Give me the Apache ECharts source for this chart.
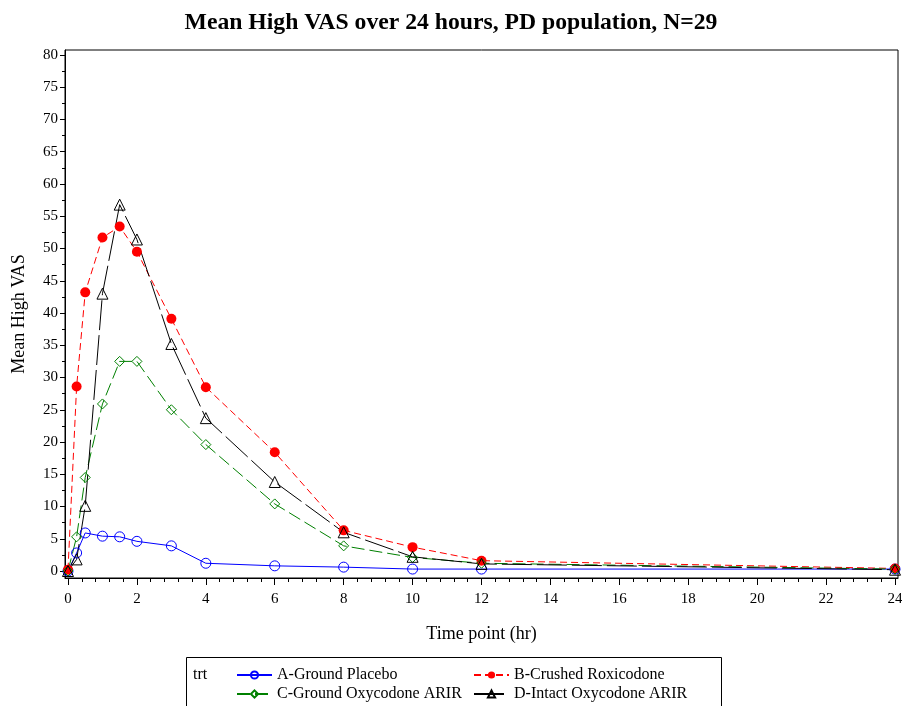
<!DOCTYPE html>
<html>
<head>
<meta charset="utf-8">
<script src="https://cdn.jsdelivr.net/npm/echarts@6/dist/echarts.min.js"></script>
<style>
  html, body { margin: 0; padding: 0; background: #fff; }
  #chart { width: 902px; height: 706px; }
</style>
</head>
<body>
<div id="chart"></div>
<script>
// time points (hr)
var hours = [0, 0.25, 0.5, 1, 1.5, 2, 3, 4, 6, 8, 10, 12, 24];
// mean high VAS per treatment
var placebo  = [0, 2.8, 5.9, 5.4, 5.3, 4.6, 3.9, 1.2, 0.8, 0.6, 0.3, 0.3, 0.3];
var crushed  = [0.2, 28.6, 43.2, 51.7, 53.4, 49.5, 39.1, 28.5, 18.4, 6.3, 3.7, 1.6, 0.4];
var groundOx = [0, 5.3, 14.5, 25.9, 32.5, 32.5, 25.0, 19.6, 10.4, 3.9, 2.1, 1.2, 0.3];
var intactOx = [0, 1.8, 10.1, 43.0, 56.8, 51.4, 35.2, 23.7, 13.8, 6.0, 2.2, 1.1, 0.2];
var names = ['A-Ground Placebo', 'B-Crushed Roxicodone', 'C-Ground Oxycodone ARIR', 'D-Intact Oxycodone ARIR'];
// tick labels
var xTicks = [0, 2, 4, 6, 8, 10, 12, 14, 16, 18, 20, 22, 24];
var yTicks = [0, 5, 10, 15, 20, 25, 30, 35, 40, 45, 50, 55, 60, 65, 70, 75, 80];

var FONT = '"Liberation Serif", "Times New Roman", serif';

// minor tick positions: 5 steps per x major, 2 per y major
var xMinor = [];
for (var i = 0; i < xTicks.length - 1; i++) {
    for (var k = 1; k < 5; k++) xMinor.push(xTicks[i] + k * 0.4);
}
var yMinor = [];
for (var j = 0; j < yTicks.length - 1; j++) {
    yMinor.push(yTicks[j] + 2.5);
}

function pairs(vals) {
    var out = [];
    for (var i = 0; i < hours.length; i++) {
        out.push([hours[i], vals[i]]);
    }
    return out;
}

function makeSeries(name, vals, color, symbol, size, filled, dash) {
    return {
        name: name,
        type: 'line',
        data: pairs(vals),
        symbol: symbol,
        symbolSize: size,
        lineStyle: { color: color, width: 1, type: dash },
        itemStyle: {
            color: filled ? color : 'rgba(255,255,255,0)',
            borderColor: color,
            borderWidth: filled ? 0 : 1
        },
        z: 3
    };
}

function legendItem(name, left, top) {
    return {
        data: [name],
        orient: 'horizontal',
        left: left,
        top: top,
        padding: 0,
        itemWidth: 35,
        itemHeight: 9,
        selectedMode: false,
        textStyle: { fontFamily: FONT, fontSize: 16, color: '#000', lineHeight: 16 }
    };
}

// x range / y range padded so the frame sits just outside 0..24 and 0..80
var X_MIN = -0.087, X_MAX = 24.087;
var Y_MIN = -1.085, Y_MAX = 80.775;

var tickStyle = { color: '#000', width: 1 };

var chart = echarts.init(document.getElementById('chart'), null, { renderer: 'canvas' });

var option = {
    animation: false,
    backgroundColor: '#fff',
    title: {
        text: 'Mean High VAS over 24 hours, PD population, N=29',
        left: 'center',
        top: 6,
        textStyle: { fontFamily: FONT, fontSize: 23.7, fontWeight: 'bold', color: '#000' }
    },
    grid: {
        left: 65,
        right: 4,
        top: 50,
        bottom: 128,
        show: true,
        borderColor: '#000',
        borderWidth: 1,
        backgroundColor: 'rgba(0,0,0,0)',
        outerBoundsMode: 'none'
    },
    xAxis: [
        {
            type: 'value',
            min: X_MIN,
            max: X_MAX,
            name: 'Time point (hr)',
            nameLocation: 'middle',
            nameGap: 47,
            nameTextStyle: { fontFamily: FONT, fontSize: 18, color: '#000' },
            axisLine: { show: true, onZero: false, lineStyle: tickStyle },
            axisTick: { show: true, inside: false, length: 7, customValues: xTicks, lineStyle: tickStyle },
            axisLabel: { fontFamily: FONT, fontSize: 15, color: '#000', margin: 14, customValues: xTicks },
            splitLine: { show: false }
        },
        {
            type: 'value',
            position: 'bottom',
            min: X_MIN,
            max: X_MAX,
            axisLine: { show: false, onZero: false },
            axisTick: { show: true, inside: false, length: 4, customValues: xMinor, lineStyle: tickStyle },
            axisLabel: { show: false },
            splitLine: { show: false }
        }
    ],
    yAxis: [
        {
            type: 'value',
            min: Y_MIN,
            max: Y_MAX,
            name: 'Mean High VAS',
            nameLocation: 'middle',
            nameGap: 37,
            nameTextStyle: { fontFamily: FONT, fontSize: 18, color: '#000' },
            axisLine: { show: true, onZero: false, lineStyle: tickStyle },
            axisTick: { show: true, inside: false, length: 5, customValues: yTicks, lineStyle: tickStyle },
            axisLabel: { fontFamily: FONT, fontSize: 15, color: '#000', margin: 7, customValues: yTicks },
            splitLine: { show: false }
        },
        {
            type: 'value',
            position: 'left',
            min: Y_MIN,
            max: Y_MAX,
            axisLine: { show: false, onZero: false },
            axisTick: { show: true, inside: false, length: 3, customValues: yMinor, lineStyle: tickStyle },
            axisLabel: { show: false },
            splitLine: { show: false }
        }
    ],
    legend: [
        legendItem(names[0], 236, 667),
        legendItem(names[1], 473, 667),
        legendItem(names[2], 236, 686),
        legendItem(names[3], 473, 686)
    ],
    graphic: [
        {
            type: 'rect',
            shape: { x: 186.5, y: 657.5, width: 535, height: 60 },
            style: { fill: 'none', stroke: '#000', lineWidth: 1 },
            silent: true
        },
        {
            type: 'text',
            left: 193,
            top: 667,
            style: { text: 'trt', font: '16px ' + FONT, fill: '#000' }
        }
    ],
    series: [
        makeSeries(names[0], placebo, '#0000ff', 'circle', 10, false, 'solid'),
        makeSeries(names[1], crushed, '#ff0000', 'circle', 10, true, [7, 4]),
        makeSeries(names[2], groundOx, '#008000', 'diamond', 10, false, [13, 5]),
        makeSeries(names[3], intactOx, '#000000', 'triangle', 11, false, [30, 5])
    ]
};

chart.setOption(option);
</script>
</body>
</html>
